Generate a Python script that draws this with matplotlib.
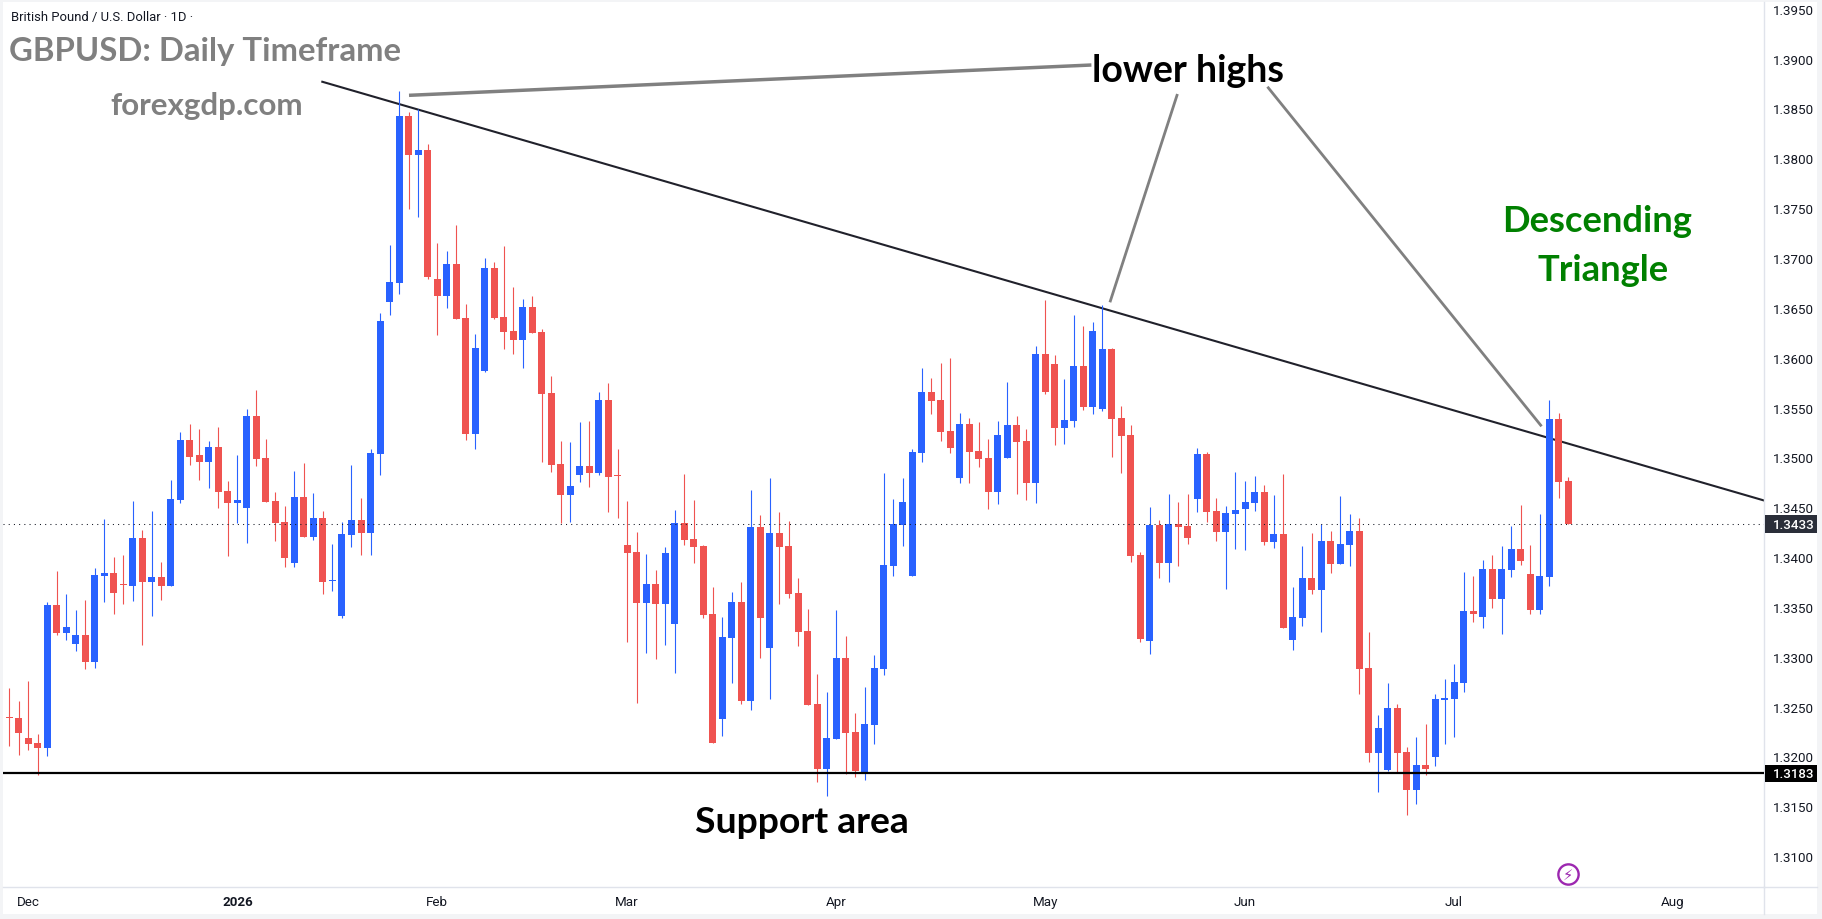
import numpy as np
import matplotlib
matplotlib.use('Agg')
import matplotlib.pyplot as plt
from matplotlib.lines import Line2D
from matplotlib.patches import Rectangle

# GBPUSD daily candles
opens = [
    1.3240, 1.3239, 1.3219, 1.3214, 1.3209, 1.3352, 1.3324, 1.3313, 1.3322, 1.3295,
    1.3381, 1.3384, 1.3373, 1.3371, 1.3419, 1.3375, 1.3380, 1.3371, 1.3457, 1.3517,
    1.3502, 1.3495, 1.3510, 1.3466, 1.3454, 1.3449, 1.3542, 1.3499, 1.3456, 1.3435,
    1.3394, 1.3460, 1.3420, 1.3439, 1.3376, 1.3341, 1.3422, 1.3437, 1.3424, 1.3503,
    1.3656, 1.3675, 1.3842, 1.3803, 1.3808, 1.3679, 1.3662, 1.3694, 1.3640, 1.3523,
    1.3587, 1.3690, 1.3641, 1.3627, 1.3618, 1.3651, 1.3626, 1.3565, 1.3493, 1.3462,
    1.3482, 1.3491, 1.3484, 1.3558, 1.3482, 1.3412, 1.3405, 1.3354, 1.3373, 1.3353,
    1.3333, 1.3434, 1.3418, 1.3411, 1.3343, 1.3238, 1.3319, 1.3355, 1.3256, 1.3430,
    1.3309, 1.3424, 1.3411, 1.3364, 1.3326, 1.3253, 1.3187, 1.3218, 1.3299, 1.3225,
    1.3184, 1.3232, 1.3288, 1.3391, 1.3432, 1.3381, 1.3504, 1.3566, 1.3558, 1.3526,
    1.3479, 1.3534, 1.3506, 1.3499, 1.3465, 1.3499, 1.3533, 1.3516, 1.3474, 1.3604,
    1.3594, 1.3530, 1.3537, 1.3592, 1.3551, 1.3549, 1.3609, 1.3540, 1.3522, 1.3402,
    1.3316, 1.3432, 1.3394, 1.3433, 1.3431, 1.3458, 1.3503, 1.3446, 1.3425, 1.3443,
    1.3448, 1.3454, 1.3465, 1.3415, 1.3423, 1.3317, 1.3339, 1.3379, 1.3367, 1.3416,
    1.3393, 1.3412, 1.3426, 1.3289, 1.3204, 1.3186, 1.3249, 1.3205, 1.3166, 1.3191,
    1.3199, 1.3257, 1.3258, 1.3274, 1.3346, 1.3340, 1.3388, 1.3358, 1.3387, 1.3408,
    1.3383, 1.3347, 1.3380, 1.3539, 1.3476,
]
highs = [
    1.3269, 1.3256, 1.3276, 1.3223, 1.3355, 1.3386, 1.3363, 1.3347, 1.3357, 1.3389,
    1.3438, 1.3400, 1.3402, 1.3456, 1.3427, 1.3446, 1.3395, 1.3477, 1.3525, 1.3534,
    1.3528, 1.3516, 1.3531, 1.3476, 1.3502, 1.3549, 1.3568, 1.3518, 1.3465, 1.3451,
    1.3486, 1.3494, 1.3464, 1.3446, 1.3413, 1.3435, 1.3492, 1.3459, 1.3508, 1.3645,
    1.3713, 1.3868, 1.3846, 1.3849, 1.3814, 1.3715, 1.3707, 1.3733, 1.3654, 1.3624,
    1.3700, 1.3696, 1.3712, 1.3671, 1.3659, 1.3662, 1.3629, 1.3582, 1.3516, 1.3515,
    1.3536, 1.3537, 1.3566, 1.3575, 1.3508, 1.3456, 1.3425, 1.3403, 1.3387, 1.3410,
    1.3447, 1.3483, 1.3457, 1.3412, 1.3370, 1.3340, 1.3365, 1.3375, 1.3467, 1.3442,
    1.3479, 1.3445, 1.3436, 1.3379, 1.3348, 1.3283, 1.3265, 1.3347, 1.3321, 1.3244,
    1.3270, 1.3302, 1.3484, 1.3458, 1.3479, 1.3508, 1.3590, 1.3580, 1.3595, 1.3600,
    1.3545, 1.3540, 1.3536, 1.3518, 1.3537, 1.3576, 1.3542, 1.3528, 1.3612, 1.3658,
    1.3603, 1.3579, 1.3643, 1.3632, 1.3636, 1.3653, 1.3610, 1.3552, 1.3533, 1.3405,
    1.3450, 1.3437, 1.3463, 1.3455, 1.3463, 1.3509, 1.3505, 1.3459, 1.3451, 1.3485,
    1.3476, 1.3481, 1.3472, 1.3462, 1.3483, 1.3370, 1.3411, 1.3424, 1.3433, 1.3426,
    1.3461, 1.3443, 1.3439, 1.3325, 1.3242, 1.3274, 1.3253, 1.3210, 1.3220, 1.3233,
    1.3263, 1.3278, 1.3293, 1.3385, 1.3381, 1.3397, 1.3402, 1.3411, 1.3431, 1.3452,
    1.3412, 1.3443, 1.3558, 1.3545, 1.3480,
]
lows = [
    1.3211, 1.3202, 1.3207, 1.3181, 1.3200, 1.3322, 1.3317, 1.3306, 1.3288, 1.3289,
    1.3355, 1.3343, 1.3353, 1.3356, 1.3312, 1.3341, 1.3357, 1.3371, 1.3454, 1.3492,
    1.3477, 1.3469, 1.3449, 1.3401, 1.3434, 1.3414, 1.3491, 1.3455, 1.3416, 1.3390,
    1.3390, 1.3420, 1.3417, 1.3363, 1.3366, 1.3339, 1.3410, 1.3402, 1.3402, 1.3482,
    1.3643, 1.3664, 1.3749, 1.3741, 1.3679, 1.3623, 1.3650, 1.3639, 1.3517, 1.3508,
    1.3586, 1.3639, 1.3609, 1.3604, 1.3590, 1.3625, 1.3495, 1.3485, 1.3434, 1.3435,
    1.3475, 1.3470, 1.3482, 1.3445, 1.3439, 1.3315, 1.3254, 1.3304, 1.3298, 1.3312,
    1.3284, 1.3412, 1.3394, 1.3339, 1.3214, 1.3221, 1.3274, 1.3253, 1.3247, 1.3299,
    1.3258, 1.3353, 1.3359, 1.3311, 1.3252, 1.3174, 1.3160, 1.3218, 1.3182, 1.3179,
    1.3176, 1.3213, 1.3282, 1.3381, 1.3411, 1.3381, 1.3495, 1.3544, 1.3516, 1.3504,
    1.3474, 1.3474, 1.3490, 1.3448, 1.3453, 1.3499, 1.3463, 1.3457, 1.3454, 1.3564,
    1.3512, 1.3513, 1.3531, 1.3548, 1.3544, 1.3547, 1.3500, 1.3484, 1.3395, 1.3315,
    1.3303, 1.3379, 1.3375, 1.3391, 1.3413, 1.3445, 1.3435, 1.3416, 1.3368, 1.3408,
    1.3407, 1.3446, 1.3412, 1.3409, 1.3329, 1.3307, 1.3331, 1.3363, 1.3325, 1.3384,
    1.3393, 1.3391, 1.3263, 1.3194, 1.3164, 1.3185, 1.3184, 1.3141, 1.3152, 1.3181,
    1.3190, 1.3213, 1.3220, 1.3265, 1.3335, 1.3329, 1.3349, 1.3323, 1.3380, 1.3392,
    1.3343, 1.3343, 1.3371, 1.3459, 1.3433,
]
closes = [
    1.3239, 1.3224, 1.3213, 1.3209, 1.3352, 1.3324, 1.3330, 1.3322, 1.3295, 1.3382,
    1.3384, 1.3364, 1.3372, 1.3419, 1.3375, 1.3380, 1.3371, 1.3458, 1.3517, 1.3500,
    1.3495, 1.3510, 1.3465, 1.3454, 1.3457, 1.3542, 1.3498, 1.3455, 1.3434, 1.3399,
    1.3460, 1.3420, 1.3439, 1.3375, 1.3377, 1.3423, 1.3437, 1.3424, 1.3504, 1.3637,
    1.3676, 1.3842, 1.3803, 1.3808, 1.3681, 1.3662, 1.3694, 1.3639, 1.3523, 1.3610,
    1.3690, 1.3640, 1.3626, 1.3618, 1.3651, 1.3625, 1.3564, 1.3492, 1.3462, 1.3471,
    1.3491, 1.3484, 1.3558, 1.3480, 1.3481, 1.3404, 1.3354, 1.3373, 1.3353, 1.3404,
    1.3434, 1.3417, 1.3410, 1.3342, 1.3214, 1.3320, 1.3355, 1.3256, 1.3430, 1.3339,
    1.3424, 1.3410, 1.3363, 1.3325, 1.3252, 1.3187, 1.3219, 1.3299, 1.3224, 1.3185,
    1.3233, 1.3289, 1.3392, 1.3433, 1.3455, 1.3505, 1.3566, 1.3557, 1.3525, 1.3509,
    1.3534, 1.3505, 1.3498, 1.3465, 1.3522, 1.3533, 1.3515, 1.3474, 1.3604, 1.3566,
    1.3530, 1.3538, 1.3592, 1.3551, 1.3627, 1.3609, 1.3539, 1.3521, 1.3401, 1.3318,
    1.3432, 1.3394, 1.3433, 1.3430, 1.3419, 1.3503, 1.3445, 1.3425, 1.3444, 1.3447,
    1.3455, 1.3465, 1.3415, 1.3423, 1.3329, 1.3340, 1.3379, 1.3367, 1.3416, 1.3393,
    1.3413, 1.3426, 1.3288, 1.3204, 1.3229, 1.3249, 1.3204, 1.3166, 1.3191, 1.3187,
    1.3258, 1.3259, 1.3275, 1.3346, 1.3343, 1.3388, 1.3358, 1.3388, 1.3408, 1.3396,
    1.3347, 1.3381, 1.3539, 1.3475, 1.3433,
]

price_ticks = [1.31 + 0.005 * k for k in range(18)]
month_pos = [2, 24, 45, 65, 87, 109, 130, 152, 175]
month_labels = ['Dec', '2026', 'Feb', 'Mar', 'Apr', 'May', 'Jun', 'Jul', 'Aug']

last_price = 1.3433
support_price = 1.3183
trend_x = [32.93, 184.6]
trend_y = [1.38768, 1.34568]
pointer_lines = [
    ([42.05, 113.84], [1.38632, 1.38936], 2.5),
    ([122.89, 115.79], [1.38645, 1.36556], 2.0),
    ([132.36, 161.2], [1.38718, 1.35312], 2.0),
]

W, H = 1822, 920
BLUE = '#2962ff'
RED = '#ef5350'
GRID = '#e0e3eb'
INK = '#131722'
GREY = '#808080'
plt.rcParams['font.family'] = ['Roboto', 'DejaVu Sans']


def fx(px):
    return px / W


def fy(px):
    return 1 - px / H


fig = plt.figure(figsize=(W / 100, H / 100), dpi=100, facecolor='#f3f4f6')
fig.add_artist(Rectangle((fx(3), fy(915)), fx(1814), 912 / H, transform=fig.transFigure,
                         facecolor='white', edgecolor='none', zorder=-5))
ax = fig.add_axes([fx(3), fy(888), fx(1761), 885 / H], facecolor='white')
ax.set_xlim(-0.663, 184.6)
ax.set_ylim(1.30691, 1.39568)

# candles
x = np.arange(len(opens))
o, h, l, c = map(np.array, (opens, highs, lows, closes))
colors = np.where(c >= o, BLUE, RED)
ax.vlines(x, l, h, colors=colors, linewidth=0.8, zorder=2)
ax.bar(x, np.abs(c - o), bottom=np.minimum(o, c), width=0.736, color=colors,
       linewidth=0, zorder=2.1)

# trendline, support and last price
ax.plot(trend_x, trend_y, color='#20212b', lw=1.5, zorder=1)
ax.axhline(support_price, color='black', lw=1.6, zorder=3)
ax.axhline(last_price, color=INK, lw=0.75, ls=(0, (1, 4)), zorder=3)
for lx, ly, lw in pointer_lines:
    ax.plot(lx, ly, color=GREY, lw=lw, zorder=3, solid_capstyle='butt')

# price tags on the right scale
tags = ax.get_yaxis_transform()
for price, bg in [(last_price, '#2a2e39'), (support_price, '#000000')]:
    ax.add_patch(Rectangle((1.0005, price - 0.00088), 52 / 1761, 0.00176, transform=tags,
                           facecolor=bg, edgecolor='none', clip_on=False, zorder=5))
    ax.text(1 + 9 / 1761, price, f'{price:.4f}', transform=tags, color='white', fontsize=9.6,
            fontweight='medium', va='center', ha='left', zorder=6)

# alert icon above the last bar
ax.plot([164], [1.30822], 'o', ms=14.6, mfc='white', mec='#9c27b0', mew=1.7, zorder=4)
ax.text(164, 1.30822, '\u26a1', color='#9c27b0', fontsize=10.5, ha='center', va='center',
        family='DejaVu Sans', zorder=5)

ax.yaxis.tick_right()
ax.set_yticks(price_ticks)
ax.set_yticklabels([f'{t:.4f}' for t in price_ticks])
ax.tick_params(axis='y', length=0, pad=6.5, labelsize=9.6, labelcolor=INK)
ax.set_xticks(month_pos)
ax.set_xticklabels(month_labels)
ax.tick_params(axis='x', length=0, pad=5.5, labelsize=9.6, labelcolor=INK)
ax.get_xticklabels()[1].set_fontweight('bold')
for side in ('top', 'left'):
    ax.spines[side].set_visible(False)
for side in ('right', 'bottom'):
    ax.spines[side].set_color(GRID)
    ax.spines[side].set_linewidth(1)
fig.add_artist(Line2D([fx(1764), fx(1764)], [fy(888), fy(915)], color=GRID, lw=1,
                      transform=fig.transFigure))
fig.add_artist(Line2D([fx(1764), fx(1817)], [fy(888), fy(888)], color=GRID, lw=1,
                      transform=fig.transFigure))

# labels written on the chart
fig.text(fx(11), fy(18), 'British Pound / U.S. Dollar \u00b7 1D \u00b7', color=INK,
         fontsize=9.4, va='center', ha='left')
labels = [
    ('GBPUSD: Daily Timeframe', 9, 61, GREY, 23.7),
    ('forexgdp.com', 110, 115, GREY, 22.6),
    ('lower highs', 1092, 82, 'black', 27),
    ('Descending', 1502, 232, 'green', 26.2),
    ('Triangle', 1538, 281, 'green', 26.2),
    ('Support area', 695, 833, 'black', 26.9),
]
for text, px, py, col, size in labels:
    fig.text(fx(px), fy(py), text, color=col, fontsize=size, fontweight='bold',
             family=['Lato', 'DejaVu Sans'], ha='left', va='baseline')

fig.savefig('out.png', dpi=100, facecolor=fig.get_facecolor())
